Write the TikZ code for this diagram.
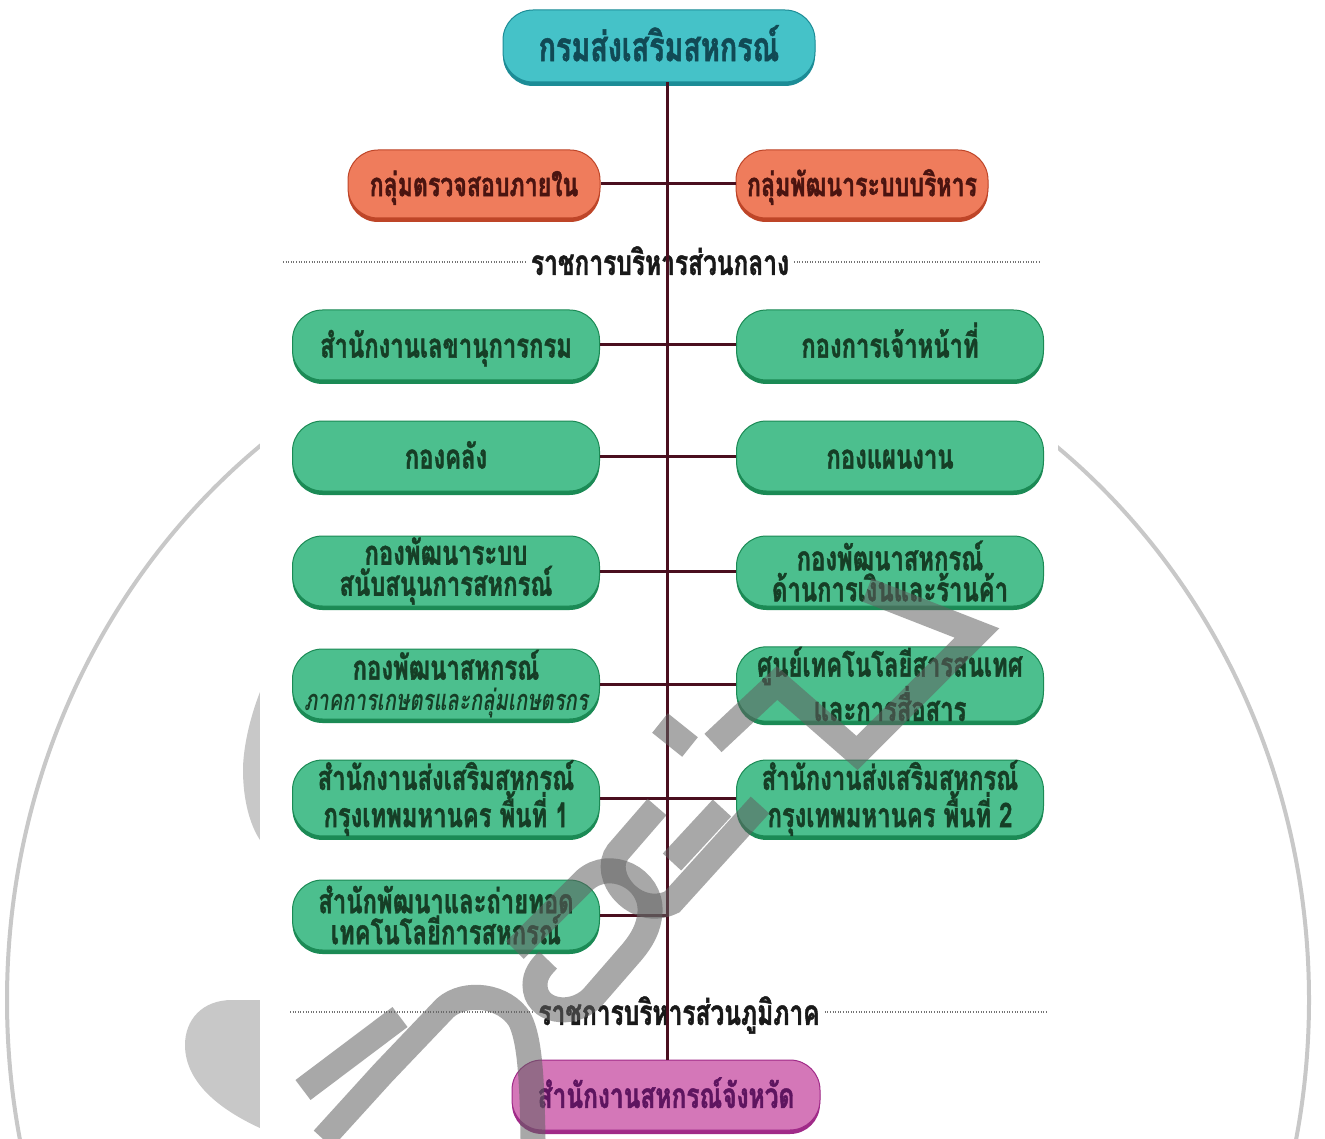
\documentclass[tikz,border=0pt]{standalone}
\usepackage{fontspec}
\newfontfamily\thai[Script=Thai, FakeStretch=0.7, BoldFeatures={FakeBold=1.2}]{Loma}
\usetikzlibrary{shadows}
\newcommand\evenbox[1]{\raisebox{0pt}[0.9em][0.16em]{#1}}
\definecolor{cfill}{HTML}{45C2C8}
\definecolor{cdark}{HTML}{1C8C96}
\definecolor{ctext}{HTML}{114A55}
\definecolor{ofill}{HTML}{EF7C5C}
\definecolor{odark}{HTML}{BE4528}
\definecolor{otext}{HTML}{4A1410}
\definecolor{gfill}{HTML}{4CBF8E}
\definecolor{gdark}{HTML}{1B8A55}
\definecolor{gtext}{HTML}{163E26}
\definecolor{mfill}{HTML}{D477B8}
\definecolor{mdark}{HTML}{A02A88}
\definecolor{mtext}{HTML}{5E1560}
\definecolor{wire}{HTML}{4A0F1F}
\definecolor{wmlight}{HTML}{C8C8C8}
\begin{document}
\begin{tikzpicture}[x=1pt,y=-1pt,
  pill/.style={rounded corners=30pt, minimum height=70pt, align=center, inner sep=0pt,
    line width=1pt, font=\thai\bfseries\fontsize{34}{31}\selectfont},
  cyanbox/.style={pill, minimum width=312pt, minimum height=72pt, fill=cfill, draw=cdark, text=ctext,
    font=\thai\bfseries\fontsize{41}{40}\selectfont,
    drop shadow={shadow xshift=0pt, shadow yshift=-4pt, fill=cdark, opacity=1}},
  orangebox/.style={pill, minimum width=252pt, minimum height=68pt, fill=ofill, draw=odark, text=otext,
    font=\thai\bfseries\fontsize{33}{31}\selectfont,
    drop shadow={shadow xshift=0pt, shadow yshift=-4pt, fill=odark, opacity=1}},
  greenbox/.style={pill, minimum width=307pt, minimum height=70pt, fill=gfill, draw=gdark, text=gtext,
    drop shadow={shadow xshift=0pt, shadow yshift=-4pt, fill=gdark, opacity=1}},
  magbox/.style={pill, minimum width=308pt, minimum height=70pt, fill=mfill, draw=mdark, text=mtext,
    font=\thai\bfseries\fontsize{35}{31}\selectfont,
    drop shadow={shadow xshift=0pt, shadow yshift=-4pt, fill=mdark, opacity=1}},
  seclabel/.style={inner sep=5pt, text=black!90, font=\thai\bfseries\fontsize{35}{32}\selectfont},
  wirestyle/.style={draw=wire, line width=3pt},
  dotline/.style={draw=black!55, line width=1.3pt, dash pattern=on 1pt off 1.6pt},
  wmstroke/.style={draw=black!62, opacity=0.55, line width=25pt, line cap=butt, line join=miter}
]
\useasboundingbox (0,0) rectangle (1325,1139);
\fill[white] (0,0) rectangle (1325,1139);
% watermark background pieces
\draw[wmlight, line width=4pt] (658,1000) ellipse [x radius=651, y radius=700];
\fill[wmlight] (260,1000) -- (232,1000) .. controls (202,1000) and (185,1020) .. (185,1045)
   .. controls (185,1085) and (225,1112) .. (260,1128) -- cycle;
\fill[wmlight] (260,692) .. controls (249,720) and (243,750) .. (243,770)
   .. controls (243,800) and (250,825) .. (260,840) -- cycle;
\fill[white] (260,0) rectangle (1058,1139);

% nodes
\node[cyanbox] (top) at (659,46) {\evenbox{กรมส่งเสริมสหกรณ์}};
\node[orangebox] (o1) at (474,184) {\evenbox{กลุ่มตรวจสอบภายใน}};
\node[orangebox] (o2) at (862,184) {\evenbox{กลุ่มพัฒนาระบบบริหาร}};
\node[seclabel] (lab1) at (660,262) {\evenbox{ราชการบริหารส่วนกลาง}};
\node[greenbox] (l1) at (446,345) {\evenbox{สำนักงานเลขานุการกรม}};
\node[greenbox] (r1) at (890,345) {\evenbox{กองการเจ้าหน้าที่}};
\node[greenbox] (l2) at (446,456) {\evenbox{กองคลัง}};
\node[greenbox] (r2) at (890,456) {\evenbox{กองแผนงาน}};
\node[greenbox] (l3) at (446,571) {กองพัฒนาระบบ\\สนับสนุนการสหกรณ์};
\node[greenbox] (r3) at (890,571) {กองพัฒนาสหกรณ์\\ด้านการเงินและร้านค้า};
\node[greenbox] (l4) at (446,684) {กองพัฒนาสหกรณ์\\{\itshape\fontsize{29}{24}\selectfont ภาคการเกษตรและกลุ่มเกษตรกร}};
\node[greenbox] (r4) at (890,684) {ศูนย์เทคโนโลยีสารสนเทศ\\และการสื่อสาร};
\node[greenbox] (l5) at (446,798) {สำนักงานส่งเสริมสหกรณ์\\กรุงเทพมหานคร พื้นที่ 1};
\node[greenbox] (r5) at (890,798) {สำนักงานส่งเสริมสหกรณ์\\กรุงเทพมหานคร พื้นที่ 2};
\node[greenbox] (l6) at (446,915) {สำนักพัฒนาและถ่ายทอด\\เทคโนโลยีการสหกรณ์};
\node[seclabel] (lab2) at (679,1012) {\evenbox{ราชการบริหารส่วนภูมิภาค}};
\node[magbox] (mag) at (666,1095) {\evenbox{สำนักงานสหกรณ์จังหวัด}};

\coordinate (sp) at (667,0);
\coordinate (d1a) at (283,262);
\coordinate (d1b) at (1040,262);
\coordinate (d2a) at (290,1012);
\coordinate (d2b) at (1048,1012);

% connectors
\draw[wirestyle] (top.south -| sp) -- (mag.north -| sp);
\draw[wirestyle] (o1.east) -- (o2.west);
\foreach \a/\b in {l1/r1,l2/r2,l3/r3,l4/r4,l5/r5}{
  \draw[wirestyle] (\a.east) -- (\b.west);
}
\draw[wirestyle] (l6.east) -- (l6.east -| sp);
\draw[dotline] (d1a) -- (lab1.west);
\draw[dotline] (lab1.east) -- (d1b);
\draw[dotline] (d2a) -- (lab2.west);
\draw[dotline] (lab2.east) -- (d2b);

% watermark strokes on top
\draw[wmstroke] (303,1090) -- (400,1017);
\draw[wmstroke] (323,1139) -- (383,1073) -- (445,1008) .. controls (465,990) and (505,995) .. (520,1020)
   .. controls (530,1040) and (532,1080) .. (533,1139);
\draw[wmstroke] (515,950) -- (585,880) .. controls (610,858) and (652,878) .. (650,912)
   .. controls (649,928) and (642,940) .. (632,952) -- (592,998)
   .. controls (572,1018) and (535,1012) .. (535,985) .. controls (535,975) and (540,968) .. (548,960);
\draw[wmstroke] (657,807) -- (618,852) .. controls (600,875) and (635,920) .. (672,902) -- (760,805);
\draw[wmstroke] (722,808) -- (672,862);
\draw[wmstroke] (660,723) -- (690,747);
\draw[wmstroke] (713,743) -- (777,683) -- (857,753) -- (977,633) -- (867,590);
\end{tikzpicture}
\end{document}
